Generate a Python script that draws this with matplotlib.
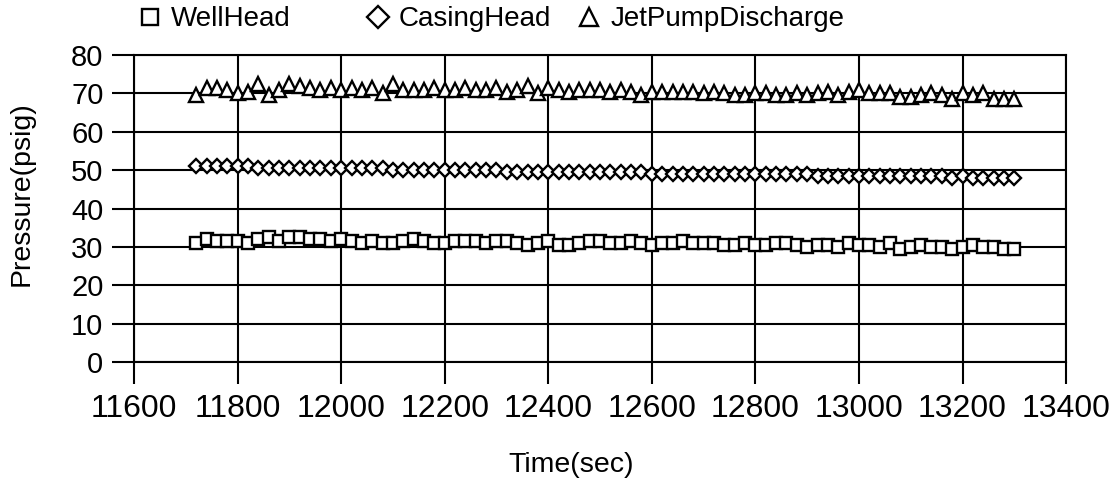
import matplotlib
matplotlib.use('Agg')
import matplotlib.pyplot as plt

plt.rcParams['font.family'] = ['Liberation Sans', 'DejaVu Sans']

# sample times (sec)
time_sec = [11720, 11740, 11760, 11780, 11800, 11820, 11840, 11860, 11880, 11900,
            11920, 11940, 11960, 11980, 12000, 12020, 12040, 12060, 12080, 12100,
            12120, 12140, 12160, 12180, 12200, 12220, 12240, 12260, 12280, 12300,
            12320, 12340, 12360, 12380, 12400, 12420, 12440, 12460, 12480, 12500,
            12520, 12540, 12560, 12580, 12600, 12620, 12640, 12660, 12680, 12700,
            12720, 12740, 12760, 12780, 12800, 12820, 12840, 12860, 12880, 12900,
            12920, 12940, 12960, 12980, 13000, 13020, 13040, 13060, 13080, 13100,
            13120, 13140, 13160, 13180, 13200, 13220, 13240, 13260, 13280, 13300]

well_head = [31.0, 32.0, 31.5, 31.5, 31.5, 31.0, 32.0, 32.5, 31.5, 32.5,
             32.5, 32.0, 32.0, 31.5, 32.0, 31.5, 31.0, 31.5, 31.0, 31.0,
             31.5, 32.0, 31.5, 31.0, 31.0, 31.5, 31.5, 31.5, 31.0, 31.5,
             31.5, 31.0, 30.5, 31.0, 31.5, 30.5, 30.5, 31.0, 31.5, 31.5,
             31.0, 31.0, 31.5, 31.0, 30.5, 31.0, 31.0, 31.5, 31.0, 31.0,
             31.0, 30.5, 30.5, 31.0, 30.5, 30.5, 31.0, 31.0, 30.5, 30.0,
             30.5, 30.5, 30.0, 31.0, 30.5, 30.5, 30.0, 31.0, 29.5, 30.0,
             30.5, 30.0, 30.0, 29.5, 30.0, 30.5, 30.0, 30.0, 29.5, 29.5]

casing_head = [51.0, 51.0, 51.0, 51.0, 51.0, 51.0, 50.5, 50.5, 50.5, 50.5,
               50.5, 50.5, 50.5, 50.5, 50.5, 50.5, 50.5, 50.5, 50.5, 50.0,
               50.0, 50.0, 50.0, 50.0, 50.0, 50.0, 50.0, 50.0, 50.0, 50.0,
               49.5, 49.5, 49.5, 49.5, 49.5, 49.5, 49.5, 49.5, 49.5, 49.5,
               49.5, 49.5, 49.5, 49.5, 49.0, 49.0, 49.0, 49.0, 49.0, 49.0,
               49.0, 49.0, 49.0, 49.0, 49.0, 49.0, 49.0, 49.0, 49.0, 49.0,
               48.5, 48.5, 48.5, 48.5, 48.5, 48.5, 48.5, 48.5, 48.5, 48.5,
               48.5, 48.5, 48.5, 48.0, 48.5, 48.0, 48.0, 48.0, 48.0, 48.0]

jet_pump = [69.5, 71.5, 71.5, 71.0, 70.0, 70.5, 72.5, 69.5, 71.0, 72.5,
            72.0, 71.5, 71.0, 71.5, 71.0, 71.5, 71.0, 71.5, 70.0, 72.5,
            71.0, 71.0, 71.0, 71.5, 71.0, 71.0, 71.5, 71.0, 71.0, 71.5,
            70.5, 71.0, 72.0, 70.0, 71.5, 71.0, 70.5, 71.0, 71.0, 71.0,
            70.5, 71.0, 70.5, 69.5, 70.5, 70.5, 70.5, 70.5, 70.5, 70.0,
            70.5, 70.0, 69.5, 69.5, 70.0, 70.0, 69.5, 69.5, 70.0, 69.5,
            70.0, 70.5, 69.5, 70.5, 71.0, 70.0, 70.0, 70.0, 69.0, 69.0,
            69.5, 70.0, 69.5, 68.5, 70.0, 69.5, 70.0, 68.5, 68.5, 68.5]

fig = plt.figure(figsize=(11.14, 4.83), dpi=100)
ax = fig.add_axes([0.1203, 0.2505, 0.8367, 0.6355])

style = dict(linestyle='none', color='black', markerfacecolor='white',
             markeredgewidth=1.7)
l1, = ax.plot(time_sec, well_head, marker='s', markersize=9, label='WellHead', **style)
l2, = ax.plot(time_sec, casing_head, marker='D', markersize=7, label='CasingHead', **style)
l3, = ax.plot(time_sec, jet_pump, marker='^', markersize=10, label='JetPumpDischarge', **style)

ax.set_xlim(11600, 13400)
ax.set_ylim(0, 80)
ax.set_xticks(range(11600, 13401, 200))
ax.set_yticks(range(0, 81, 10))
ax.grid(True, color='black', linewidth=1.5)
ax.set_axisbelow(True)
for s in ax.spines.values():
    s.set_linewidth(1.5)
ax.tick_params(direction='out', length=16, width=1.5, pad=6)
ax.tick_params(axis='x', labelsize=23, pad=7)
ax.tick_params(axis='y', labelsize=21)

ax.set_xlabel('Time(sec)', fontsize=20.5, labelpad=20)
ax.set_ylabel('Pressure(psig)', fontsize=20.5, labelpad=26)
ax.xaxis.label.set_x(0.469)
ax.yaxis.label.set_y(0.55)

# legend entries are spread unevenly across the top, so place each one
for h, x0, ms in [(l1, 0.1243, 1.35), (l2, 0.329, 1.6), (l3, 0.519, 1.3)]:
    fig.legend([h], [h.get_label()], loc='center left', bbox_to_anchor=(x0, 0.96),
               frameon=False, fontsize=20, handlelength=0.8, handletextpad=0.35,
               borderpad=0, borderaxespad=0, markerscale=ms)

fig.savefig('out.png', dpi=100)
